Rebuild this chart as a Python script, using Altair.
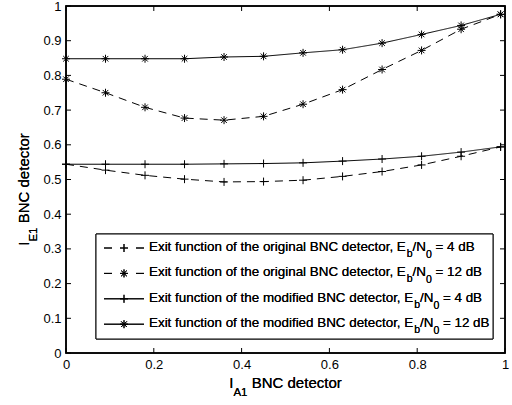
import altair as alt
import pandas as pd

# ---------------- data ----------------
x_vals = [0, 0.09, 0.18, 0.27, 0.36, 0.45, 0.54, 0.63, 0.72, 0.81, 0.90, 0.99]
orig_4db = [0.544, 0.527, 0.512, 0.501, 0.493, 0.494, 0.498, 0.509, 0.523, 0.542, 0.567, 0.594]
orig_12db = [0.789, 0.750, 0.708, 0.677, 0.671, 0.682, 0.717, 0.759, 0.817, 0.872, 0.933, 0.976]
mod_4db = [0.544, 0.544, 0.544, 0.544, 0.545, 0.546, 0.548, 0.553, 0.559, 0.567, 0.579, 0.594]
mod_12db = [0.848, 0.848, 0.848, 0.848, 0.853, 0.855, 0.865, 0.874, 0.893, 0.918, 0.944, 0.976]

series_names = ["orig4", "orig12", "mod4", "mod12"]
series_values = [orig_4db, orig_12db, mod_4db, mod_12db]
legend_detector = ["original", "original", "modified", "modified"]
legend_snr = ["4", "12", "4", "12"]
x_ticks = [0, 0.2, 0.4, 0.6, 0.8, 1]
y_ticks = [0, 0.1, 0.2, 0.3, 0.4, 0.5, 0.6, 0.7, 0.8, 0.9, 1]

# ---------------- style ----------------
W, H = 439, 347
FONT = "Liberation Sans"
DASH = [8, 6]
PLUS = "M-1,0L1,0M0,-1L0,1"
STAR = "M-1,0L1,0M0,-1L0,1M-0.7,-0.7L0.7,0.7M-0.7,0.7L0.7,-0.7"
series_dash = [DASH, DASH, [1, 0], [1, 0]]
series_shape = [PLUS, STAR, PLUS, STAR]

# Arial / Liberation Sans advance widths (1/1000 em)
AW = {" ": 278, ",": 278, ".": 278, "/": 278, "=": 584,
      "A": 667, "B": 667, "C": 722, "E": 667, "I": 278, "N": 722,
      "a": 556, "b": 556, "c": 500, "d": 556, "e": 556, "f": 278, "g": 556,
      "h": 556, "i": 222, "l": 222, "m": 833, "n": 556, "o": 556, "r": 333,
      "s": 500, "t": 278, "u": 556, "x": 500}


def tw(s, size):
    return sum(AW.get(c, 556) for c in s) * size / 1000.0


xs = alt.Scale(domain=[0, 1], nice=False, zero=False)
ys = alt.Scale(domain=[0, 1], nice=False, zero=False)
base_axis = dict(domain=False, ticks=False, grid=False, labelFont=FONT,
                 labelFontSize=13, labelColor="black", labelFlush=False,
                 labelOverlap=False, labelPadding=5, title=None, format=".1~f")
AX = alt.Axis(values=x_ticks, **base_axis)
AY = alt.Axis(values=y_ticks, **base_axis)


def X(f):
    return alt.X(f, scale=xs, axis=AX)


def Y(f):
    return alt.Y(f, scale=ys, axis=AY)


layers = []
axis_df = pd.DataFrame({"x": [0, 1], "y": [0, 1]})
layers.append(alt.Chart(axis_df).mark_point(opacity=0).encode(x=X("x:Q"), y=Y("y:Q")))

# inward ticks on four sides
xt = pd.DataFrame({"v": x_ticks})
yt = pd.DataFrame({"v": y_ticks})
TL = 5
layers.append(alt.Chart(xt).mark_rule(color="black", strokeWidth=1).encode(
    x=X("v:Q"), y=alt.value(H), y2=alt.value(H - TL)))
layers.append(alt.Chart(xt).mark_rule(color="black", strokeWidth=1).encode(
    x=X("v:Q"), y=alt.value(0), y2=alt.value(TL)))
layers.append(alt.Chart(yt).mark_rule(color="black", strokeWidth=1).encode(
    y=Y("v:Q"), x=alt.value(0), x2=alt.value(TL)))
layers.append(alt.Chart(yt).mark_rule(color="black", strokeWidth=1).encode(
    y=Y("v:Q"), x=alt.value(W), x2=alt.value(W - TL)))

# series
for name, vals, dash, shape in zip(series_names, series_values, series_dash, series_shape):
    df = pd.DataFrame({"x": x_vals, "y": vals})
    layers.append(alt.Chart(df).mark_line(color="black", strokeWidth=1, strokeDash=dash).encode(
        x=X("x:Q"), y=Y("y:Q")))
    layers.append(alt.Chart(df).mark_point(shape=shape, size=64, filled=False,
                                           color="black", strokeWidth=1, opacity=1).encode(
        x=X("x:Q"), y=Y("y:Q")))

# frame
layers.append(alt.Chart(axis_df).mark_rect(fill=None, stroke="black", strokeWidth=1.5).encode(
    x=alt.value(0), x2=alt.value(W), y=alt.value(0), y2=alt.value(H)))

# ---------------- legend ----------------
LX0, LX1, LY0, LY1 = 30, 427, 228, 333
layers.append(alt.Chart(axis_df).mark_rect(fill="white", stroke="black", strokeWidth=1).encode(
    x=alt.value(LX0), x2=alt.value(LX1), y=alt.value(LY0), y2=alt.value(LY1)))


def add_pieces(pieces, start, base, angle=None):
    """Place text pieces one after another; leading spaces become gaps.
    Horizontal: start = x, base = baseline y.  Rotated 270: start = y (bottom), base = baseline x."""
    pos = start
    step = 1 if angle is None else -1
    for txt, fs, dy in pieces:
        stripped = txt.lstrip(" ")
        pos += step * tw(txt[: len(txt) - len(stripped)], fs)
        kw = dict(text=stripped, font=FONT, fontSize=fs, align="left",
                  baseline="alphabetic", color="black")
        if angle is None:
            enc = dict(x=alt.value(pos), y=alt.value(base + dy))
        else:
            kw["angle"] = angle
            enc = dict(x=alt.value(base + dy), y=alt.value(pos))
        layers.append(alt.Chart(axis_df).mark_text(**kw).encode(**enc))
        pos += step * tw(stripped, fs)


LF, SF, SUB = 13.4, 10.5, 6
TX = 83
for i in range(4):
    base = 245 + 25.4 * i
    sy = base - 3
    dash = [8, 24] if i < 2 else [1, 0]
    layers.append(alt.Chart(axis_df).mark_rule(color="black", strokeWidth=1, strokeDash=dash).encode(
        x=alt.value(38), x2=alt.value(78), y=alt.value(sy)))
    layers.append(alt.Chart(axis_df).mark_point(shape=series_shape[i], size=64, filled=False,
                                                color="black", strokeWidth=1, opacity=1).encode(
        x=alt.value(58), y=alt.value(sy)))
    add_pieces([
        ("Exit function of the %s BNC detector, E" % legend_detector[i], LF, 0),
        ("b", SF, SUB),
        ("/N", LF, 0),
        ("0", SF, SUB + 1),
        (" = %s dB" % legend_snr[i], LF, 0),
    ], TX, base)

# ---------------- axis titles ----------------
TF, TSF = 15, 11.5
xt_pieces = [("I", TF, 0), ("A1", TSF, 8), (" BNC detector", TF, 0)]
total = sum(tw(t, f) for t, f, _ in xt_pieces)
add_pieces(xt_pieces, W / 2 - total / 2, H + 35)

yt_pieces = [("I", TF, 0), ("E1", TSF, 8), (" BNC detector", TF, 0)]
total = sum(tw(t, f) for t, f, _ in yt_pieces)
add_pieces(yt_pieces, H / 2 + 10 + total / 2, -37, angle=270)

chart = alt.layer(*layers).properties(
    width=W, height=H,
    padding={"left": 66, "top": 6, "right": 7, "bottom": 52},
    autosize=alt.AutoSizeParams(type="none"),
).configure_view(stroke=None).configure(background="white")

chart.save("out.html", embed_options={"renderer": "svg", "actions": False})
